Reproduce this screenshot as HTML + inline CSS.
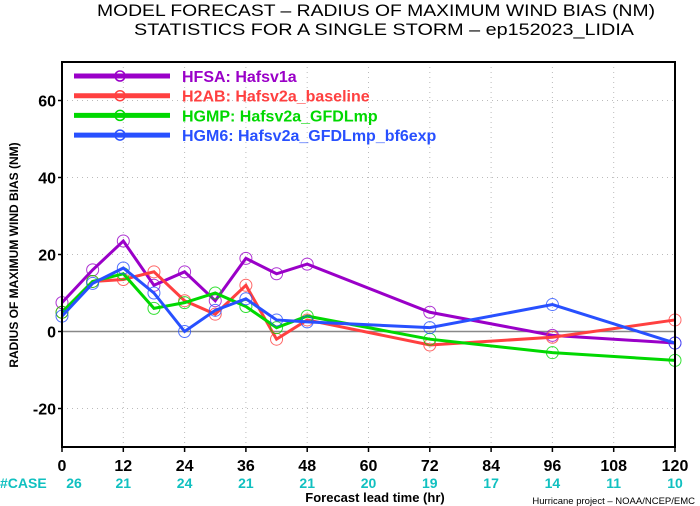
<!DOCTYPE html>
<html><head><meta charset="utf-8"><style>body{margin:0;background:#fff}svg{display:block;font-family:"Liberation Sans",sans-serif}</style></head>
<body>
<svg id="chart" width="700" height="506" xmlns="http://www.w3.org/2000/svg">
<text x="376" y="16" font-size="17" textLength="558" lengthAdjust="spacingAndGlyphs" text-anchor="middle">MODEL FORECAST – RADIUS OF MAXIMUM WIND BIAS (NM)</text>
<text x="384" y="35" font-size="17" textLength="500" lengthAdjust="spacingAndGlyphs" text-anchor="middle">STATISTICS FOR A SINGLE STORM – ep152023_LIDIA</text>
<g id="grid"></g>
<g id="series"></g>
<g id="axes"></g>
<g id="legend"></g>
<text x="18" y="255" font-size="12" font-weight="bold" text-anchor="middle" transform="rotate(-90 18 255)">RADIUS OF MAXIMUM WIND BIAS (NM)</text>
<text x="375" y="502" font-size="13" font-weight="bold" text-anchor="middle">Forecast lead time (hr)</text>
<text x="695" y="504" font-size="9.5" text-anchor="end">Hurricane project – NOAA/NCEP/EMC</text>
</svg>
<script>
const hours=[0,6,12,18,24,30,36,42,48,72,96,120];
const hfsa=[7.5,16,23.5,12,15.5,8,19,15,17.5,5,-1,-3];
const h2ab=[5,13,13.5,15.5,8,4.5,12,-2,3,-3.5,-1.5,3];
const hgmp=[5,13,15,6,7.5,10,6.5,1,4,-2,-5.5,-7.5];
const hgm6=[4,12.5,16.5,10,0,5.5,8.5,3,2.5,1,7,-3];
const xTicks=[0,12,24,36,48,60,72,84,96,108,120];
const yTicks=[-20,0,20,40,60];
const caseHours=[0,12,24,36,48,60,72,84,96,108,120];
const caseCounts=[26,21,24,21,21,20,19,17,14,11,10];
const names=["HFSA:  Hafsv1a","H2AB:  Hafsv2a_baseline","HGMP:  Hafsv2a_GFDLmp","HGM6:  Hafsv2a_GFDLmp_bf6exp"];
const X0=62,X1=675,Y0=447,Y1=62,YMIN=-30,YMAX=70;
const sx=h=>X0+(X1-X0)*h/120;
const sy=v=>Y0-(Y0-Y1)*(v-YMIN)/(YMAX-YMIN);
const NS="http://www.w3.org/2000/svg";
function mk(tag,parent,attrs){const e=document.createElementNS(NS,tag);for(const k in attrs)e.setAttribute(k,attrs[k]);document.getElementById(parent).appendChild(e);return e;}
xTicks.forEach(t=>{if(t>0&&t<120){const l=mk('line','grid',{x1:sx(t),x2:sx(t),y1:Y1,y2:Y0,stroke:'#bbb','stroke-dasharray':'1 4'});

}});
yTicks.forEach(t=>{const l=mk('line','grid',{x1:X0,x2:X1,y1:sy(t),y2:sy(t),stroke:'#bbb','stroke-dasharray':'1 4'});

});
const zl=mk('line','grid',{x1:X0,x2:X1,y1:sy(0),y2:sy(0),stroke:'#888','stroke-width':1.5});


const series=[[hfsa,'#9a00c8'],[h2ab,'#ff4040'],[hgmp,'#00d800'],[hgm6,'#2850ff']];
series.forEach(([vals,col],i)=>{
 const p=mk('polyline','series',{points:hours.map((h,j)=>sx(h)+','+sy(vals[j])).join(' '),fill:'none',stroke:col,'stroke-width':3});
 
 
 hours.forEach((h,j)=>{const c=mk('circle','series',{cx:sx(h),cy:sy(vals[j]),r:6,fill:'none',stroke:col,'stroke-width':1,opacity:0.8});
 
 });
 const y=76+i*19.7;
 const ll=mk('line','legend',{x1:74,x2:170,y1:y,y2:y,stroke:col,'stroke-width':5});
 
 
 const lc=mk('circle','legend',{cx:120,cy:y,r:5,fill:'none',stroke:col,'stroke-width':1.5});
 
 
 const lt=mk('text','legend',{x:182,y:y+6,fill:col,'font-size':16,'font-weight':'bold'});
 lt.textContent=names[i];
 
 
});
const fr=mk('rect','axes',{x:X0,y:Y1,width:X1-X0,height:Y0-Y1,fill:'none',stroke:'#000','stroke-width':2});


xTicks.forEach(t=>{const tx=mk('text','axes',{x:sx(t),y:Y0+24,'font-size':16,'font-weight':'bold','text-anchor':'middle'});
tx.textContent=t;


const tk=mk('line','axes',{x1:sx(t),x2:sx(t),y1:Y0,y2:Y0+5,stroke:'#000','stroke-width':1.5});

});
yTicks.forEach(t=>{const tx=mk('text','axes',{x:X0-6,y:sy(t)+6,'font-size':16,'font-weight':'bold','text-anchor':'end'});
tx.textContent=t;


const tk=mk('line','axes',{x1:X0-4,x2:X0,y1:sy(t),y2:sy(t),stroke:'#000','stroke-width':1.5});

});
const cl=mk('text','axes',{x:0,y:Y0+41,'font-size':14,'font-weight':'bold',fill:'#10c0c0'});
cl.textContent='#CASE';


caseHours.forEach((h,i)=>{const tx=mk('text','axes',{x:sx(h)+(i==0?12:0),y:Y0+41,'font-size':14,'font-weight':'bold',fill:'#10c0c0','text-anchor':'middle'});
tx.textContent=caseCounts[i];

});
</script>
</body></html>
